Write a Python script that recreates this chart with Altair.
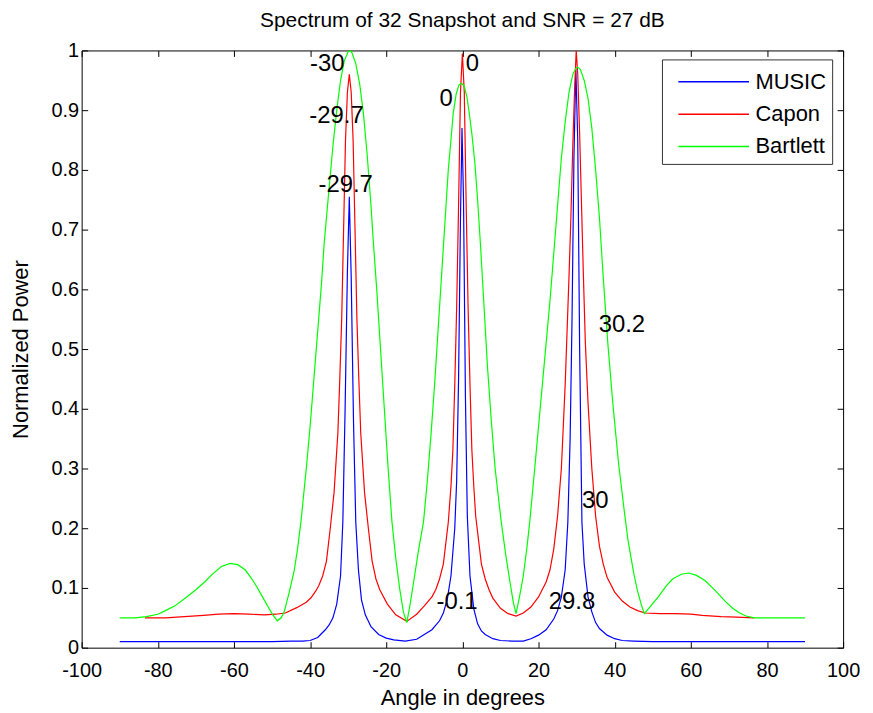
import altair as alt
import pandas as pd

FONT = "Liberation Sans"

methods = ["MUSIC", "Capon", "Bartlett"]
colors = ["#0000ff", "#ff0000", "#00ff00"]

x_ticks = [-100, -80, -60, -40, -20, 0, 20, 40, 60, 80, 100]
y_ticks = [0, 0.1, 0.2, 0.3, 0.4, 0.5, 0.6, 0.7, 0.8, 0.9, 1]

music_x = [-90, -70, -50, -45, -42, -40, -38, -36, -35, -34, -33, -32, -31.4, -30.8, -30.2,
           -29.7, -29.2, -28.6, -28, -27.3, -26.5, -25.5, -24, -22, -20, -18, -15, -12, -10, -8,
           -6, -5, -4, -3, -2, -1.5, -1, -0.5, -0.1, 0.3, 0.8, 1.3, 2, 3, 4,
           5, 6, 8, 10, 13, 16, 18, 20, 22, 24, 25, 26, 27, 27.7, 28.3,
           28.8, 29.3, 29.8, 30.3, 30.8, 31.4, 32, 33, 34, 35, 36, 38, 40, 42, 45,
           50, 70, 90]
music_y = [0.01, 0.01, 0.01, 0.011, 0.011, 0.012, 0.017, 0.03, 0.038, 0.05, 0.073, 0.12, 0.21, 0.4, 0.63,
           0.755, 0.62, 0.38, 0.21, 0.13, 0.08, 0.055, 0.035, 0.022, 0.016, 0.013, 0.011, 0.014, 0.022, 0.03,
           0.045, 0.058, 0.08, 0.12, 0.2, 0.28, 0.45, 0.72, 0.87, 0.75, 0.42, 0.22, 0.12, 0.065, 0.04,
           0.028, 0.022, 0.015, 0.012, 0.011, 0.011, 0.015, 0.021, 0.03, 0.048, 0.062, 0.085, 0.13, 0.21, 0.35,
           0.55, 0.82, 0.97, 0.85, 0.5, 0.21, 0.14, 0.085, 0.06, 0.042, 0.032, 0.021, 0.015, 0.012, 0.011,
           0.01, 0.01, 0.01]

capon_x = [-83.4, -78, -73, -68, -64, -60, -56, -52, -49, -46.5, -43.5, -41, -39.7, -38.5, -37.7,
           -36.7, -35.7, -34.7, -33.7, -32.7, -32.2, -31.7, -31.2, -30.7, -30.2, -29.7, -29.2, -28.7, -28.2, -27.7,
           -27.2, -26.7, -25.7, -24.7, -23.7, -22.7, -21.7, -19.7, -17.5, -14.6, -12, -10, -8, -7, -6,
           -5, -3.7, -3, -2.5, -2, -1.5, -1, -0.5, 0, 0.5, 1, 1.5, 2, 2.5, 3,
           3.5, 5, 6, 7, 8, 10, 12, 14.1, 16, 18, 20, 22, 23, 24, 25,
           26, 26.5, 27, 27.5, 28, 28.5, 29, 29.5, 29.9, 30.3, 30.8, 31.3, 31.8, 32.3, 33,
           34, 35, 36, 37, 38, 40, 42, 44, 46, 48, 52, 56, 60, 63, 68,
           72, 76.6]
capon_y = [0.05, 0.05, 0.052, 0.054, 0.056, 0.057, 0.056, 0.055, 0.056, 0.058, 0.067, 0.076, 0.084, 0.095, 0.104,
           0.12, 0.145, 0.2, 0.26, 0.36, 0.45, 0.55, 0.7, 0.85, 0.93, 0.96, 0.93, 0.85, 0.7, 0.55,
           0.45, 0.36, 0.26, 0.2, 0.145, 0.115, 0.097, 0.073, 0.055, 0.044, 0.056, 0.07, 0.085, 0.097, 0.115,
           0.14, 0.21, 0.27, 0.33, 0.44, 0.57, 0.74, 0.93, 0.995, 0.93, 0.74, 0.57, 0.44, 0.33, 0.27,
           0.22, 0.14, 0.115, 0.097, 0.083, 0.066, 0.057, 0.053, 0.058, 0.068, 0.085, 0.11, 0.13, 0.165, 0.22,
           0.3, 0.37, 0.44, 0.53, 0.62, 0.72, 0.84, 0.94, 1.0, 0.96, 0.86, 0.74, 0.62, 0.51, 0.41,
           0.3, 0.22, 0.17, 0.14, 0.118, 0.093, 0.078, 0.068, 0.062, 0.058, 0.057, 0.057, 0.056, 0.054, 0.052,
           0.051, 0.05]

bartlett_x = [-90, -86, -83, -80, -78, -75.5, -73, -70, -67.7, -65.5, -63.3, -61, -59, -57, -55.5,
              -54, -52.5, -51, -49.8, -48.6, -47.6, -46.8, -45.5, -44.2, -43.3, -42.4, -41, -40, -39, -38,
              -37, -36.3, -35, -34, -33, -32, -31, -30, -29.5, -29, -28, -27, -26, -25, -24,
              -23.5, -22.5, -21.5, -20.5, -19.5, -18.5, -17.5, -16.5, -15.5, -14.6, -13.8, -12.8, -11.6, -10.2, -9.2,
              -8.2, -7.2, -6.2, -5.2, -4.3, -3.7, -3, -2.4, -1.6, -0.9, -0.2, 0.5, 1.2, 1.8, 2.5,
              3.3, 4, 4.8, 5.7, 6.6, 7.6, 8.6, 10.2, 11.4, 12.5, 13.4, 14.1, 15, 16, 17,
              17.7, 19, 20, 21, 22, 23, 24, 25, 26, 27, 28, 29, 29.8, 30.3, 31,
              32, 33, 34, 35, 36, 37, 38.2, 39.5, 41, 42.5, 43.5, 45, 46, 47, 47.8,
              49.5, 51.7, 53.5, 55.2, 57.5, 59.5, 61.5, 63.8, 66.5, 69, 71, 72.6, 74.5, 76.6, 80,
              90]
bartlett_y = [0.05, 0.05, 0.052, 0.056, 0.062, 0.07, 0.082, 0.097, 0.11, 0.124, 0.136, 0.141, 0.139, 0.13, 0.117,
              0.102, 0.085, 0.068, 0.055, 0.045, 0.05, 0.06, 0.092, 0.128, 0.165, 0.211, 0.3, 0.37, 0.45, 0.53,
              0.61, 0.677, 0.77, 0.84, 0.9, 0.95, 0.983, 0.998, 1.0, 0.996, 0.978, 0.945, 0.895, 0.825, 0.74,
              0.69, 0.6, 0.5, 0.4, 0.3, 0.211, 0.15, 0.1, 0.06, 0.042, 0.07, 0.11, 0.16, 0.211, 0.28,
              0.36, 0.45, 0.55, 0.65, 0.74, 0.8, 0.85, 0.895, 0.928, 0.942, 0.945, 0.94, 0.922, 0.895, 0.86,
              0.81, 0.75, 0.67, 0.57, 0.47, 0.38, 0.3, 0.211, 0.155, 0.11, 0.075, 0.057, 0.085, 0.12, 0.17,
              0.211, 0.3, 0.37, 0.44, 0.51, 0.58, 0.66, 0.74, 0.82, 0.88, 0.93, 0.96, 0.97, 0.972, 0.968,
              0.95, 0.92, 0.87, 0.8, 0.72, 0.62, 0.51, 0.41, 0.31, 0.23, 0.18, 0.125, 0.095, 0.072, 0.057,
              0.07, 0.087, 0.103, 0.115, 0.123, 0.125, 0.121, 0.112, 0.095, 0.078, 0.066, 0.059, 0.053, 0.05, 0.05,
              0.05]

label_text = ["-30", "0", "0", "-29.7", "-29.7", "30.2", "30", "-0.1", "29.8"]
label_x = [-40.0, 0.9, -6.0, -40.2, -37.8, 35.8, 31.4, -6.8, 22.7]
label_y = [0.978, 0.978, 0.918, 0.89, 0.775, 0.54, 0.245, 0.077, 0.077]

rows = []
for name, xs, ys in [("MUSIC", music_x, music_y), ("Capon", capon_x, capon_y),
                     ("Bartlett", bartlett_x, bartlett_y)]:
    for i, (a, b) in enumerate(zip(xs, ys)):
        rows.append({"method": name, "angle": a, "power": b, "i": i})
df = pd.DataFrame(rows)

labels_df = pd.DataFrame({"angle": label_x, "power": label_y, "text": label_text})

x_scale = alt.Scale(domain=[-100, 100], nice=False, zero=False)
y_scale = alt.Scale(domain=[0, 1], nice=False, zero=False)

lines = alt.Chart(df).mark_line(strokeWidth=1.2, clip=True).encode(
    x=alt.X("angle:Q", scale=x_scale,
            axis=alt.Axis(values=x_ticks, title="Angle in degrees",
                          labelExpr="toString(datum.value)", tickSize=6, offset=-6,
                          domain=False, grid=False, labelPadding=13, titlePadding=7,
                          labelFlush=False)),
    y=alt.Y("power:Q", scale=y_scale,
            axis=alt.Axis(values=y_ticks, format=".1~f", title="Normalized Power",
                          tickSize=6, offset=-6, domain=False, grid=False,
                          labelPadding=3, titlePadding=19, labelFlush=False)),
    color=alt.Color("method:N", scale=alt.Scale(domain=methods, range=colors),
                    legend=alt.Legend(title=None, orient="none", legendX=583, legendY=9,
                                      symbolType="M-0.39,0H4.19", symbolSize=961,
                                      symbolStrokeWidth=1.5, labelFont=FONT, labelFontSize=22,
                                      labelColor="black", labelOffset=55, padding=6,
                                      rowPadding=4.5, strokeColor="#333333", fillColor="white",
                                      cornerRadius=0)),
    order="i:Q",
)

texts = alt.Chart(labels_df).mark_text(align="left", baseline="middle", fontSize=24,
                                       font=FONT, color="black").encode(
    x=alt.X("angle:Q", scale=x_scale,
            axis=alt.Axis(orient="top", values=x_ticks, labels=False, title=None,
                          tickSize=6, offset=-6, domain=False, grid=False)),
    y=alt.Y("power:Q", scale=y_scale,
            axis=alt.Axis(orient="right", values=y_ticks, labels=False, title=None,
                          tickSize=6, offset=-6, domain=False, grid=False)),
    text="text:N",
)

chart = alt.layer(lines, texts).resolve_axis(x="independent", y="independent").properties(
    width=765, height=600,
    title=alt.TitleParams("Spectrum of 32 Snapshot and SNR = 27 dB", font=FONT, fontSize=21,
                          fontWeight="normal", color="black", offset=5.5, dy=-4),
    padding={"left": 1, "top": 0, "right": 5, "bottom": 5},
).configure_axis(
    labelFont=FONT, labelFontSize=20, titleFont=FONT, titleFontSize=22,
    titleFontWeight="normal", labelColor="black", tickColor="black", titleColor="black",
    tickWidth=1,
).configure_view(stroke="black", strokeWidth=1)

chart.save("out.html", embed_options={"renderer": "svg", "actions": False})
